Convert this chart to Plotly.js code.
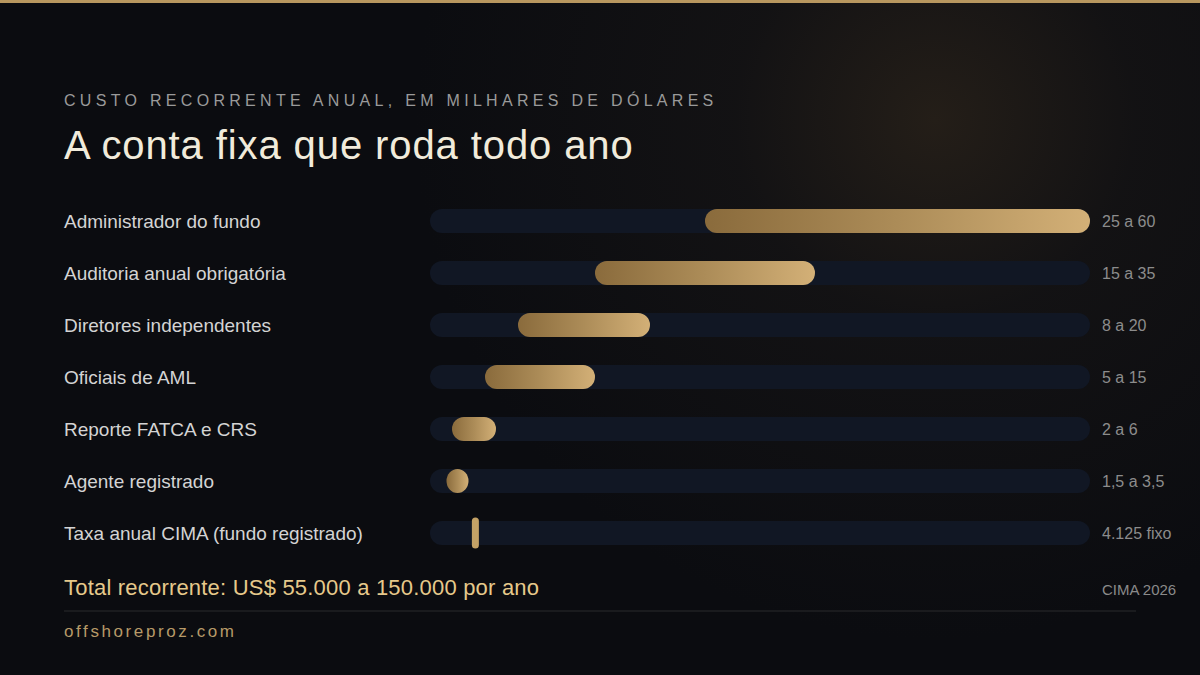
<!DOCTYPE html>
<html>
<head>
<meta charset="utf-8">
<script src="https://cdn.plot.ly/plotly-3.0.1.min.js"></script>
<style>
  html, body { margin:0; padding:0; width:1200px; height:675px; overflow:hidden;
    background: radial-gradient(circle at 935px 120px, rgba(36,30,24,1) 0px, rgba(24,22,22,0.6) 200px, rgba(11,12,16,0) 520px), #0b0c10; }
  #chart { width:1200px; height:675px; }
  .scatterlayer .points path { stroke-linecap: round; }
</style>
</head>
<body>
<div id="chart"></div>
<script>
const categories = [
  "Administrador do fundo",
  "Auditoria anual obrigatória",
  "Diretores independentes",
  "Oficiais de AML",
  "Reporte FATCA e CRS",
  "Agente registrado",
  "Taxa anual CIMA (fundo registrado)"
];
const lowValues  = [25, 15, 8, 5, 2, 1.5, 4.125];
const highValues = [60, 35, 20, 15, 6, 3.5, 4.125];
const valueLabels = ["25 a 60", "15 a 35", "8 a 20", "5 a 15", "2 a 6", "1,5 a 3,5", "4.125 fixo"];
const axisMax = 60;
const subtitleText = "CUSTO RECORRENTE ANUAL, EM MILHARES DE DÓLARES";
const titleText = "A conta fixa que roda todo ano";
const totalText = "Total recorrente: US$ 55.000 a 150.000 por ano";
const sourceText = "CIMA 2026";
const siteText = "offshoreproz.com";

const FONT = "Liberation Sans, Arial, Helvetica, sans-serif";
const W = 1200, H = 675, ML = 430, MR = 110, MT = 195, MB = 116;
const PW = W - ML - MR, PH = H - MT - MB;
const px = x => (x - ML) / PW;          // pixel -> paper x
const py = y => (H - MB - y) / PH;      // pixel -> paper y

const rangeIdx = categories.map((c, i) => lowValues[i] !== highValues[i]);
const fixedIdx = categories.map((c, i) => lowValues[i] === highValues[i]);
const rangeLows = lowValues.filter((v, i) => rangeIdx[i]);
const rangeHighs = highValues.filter((v, i) => rangeIdx[i]);

const track = {
  type: 'bar', orientation: 'h',
  y: categories, x: categories.map(() => axisMax), base: categories.map(() => 0),
  width: 0.46, marker: { color: '#111724', line: { width: 0 } },
  hoverinfo: 'skip', showlegend: false
};
const ranges = {
  type: 'bar', orientation: 'h',
  y: categories.filter((c, i) => rangeIdx[i]),
  x: rangeHighs.map((v, k) => v - rangeLows[k]),
  base: rangeLows,
  width: 0.46, marker: { color: '#b8955e', line: { width: 0 } },
  hoverinfo: 'skip', showlegend: false
};
const fixed = {
  type: 'scatter', mode: 'markers',
  y: categories.filter((c, i) => fixedIdx[i]),
  x: lowValues.filter((v, i) => fixedIdx[i]),
  marker: { symbol: 'line-ns', size: 17, color: '#c4a266', line: { width: 7, color: '#c4a266' } },
  hoverinfo: 'skip', showlegend: false
};

const spacing = {};
const annotations = [];
function addAnn(a, ls) { annotations.push(a); if (ls) spacing[a.text] = ls; }
addAnn({ xref:'paper', yref:'paper', x: px(62), y: py(100), xanchor:'left', yanchor:'middle',
  text: subtitleText, showarrow:false, font:{ family: FONT, size: 16, color:'#9a9a9a' } }, 4.3);
addAnn({ xref:'paper', yref:'paper', x: px(62), y: py(145), xanchor:'left', yanchor:'middle',
  text: titleText, showarrow:false, font:{ family: FONT, size: 40, color:'#f1ebdb' } }, 0.9);
categories.forEach((c, i) => {
  addAnn({ xref:'paper', yref:'y', x: px(62), y: c, xanchor:'left', yanchor:'middle',
    text: c, showarrow:false, font:{ family: FONT, size: 19, color:'#d4d4d4' } });
  addAnn({ xref:'paper', yref:'y', x: px(1100), y: c, xanchor:'left', yanchor:'middle',
    text: valueLabels[i], showarrow:false, font:{ family: FONT, size: 16, color:'#8c8c8c' } });
});
addAnn({ xref:'paper', yref:'paper', x: px(62), y: py(587), xanchor:'left', yanchor:'middle',
  text: totalText, showarrow:false, font:{ family: FONT, size: 22, color:'#e6c98b' } }, 0.2);
addAnn({ xref:'paper', yref:'paper', x: px(1100), y: py(589), xanchor:'left', yanchor:'middle',
  text: sourceText, showarrow:false, font:{ family: FONT, size: 15, color:'#8a8a8a' } });
addAnn({ xref:'paper', yref:'paper', x: px(62), y: py(631), xanchor:'left', yanchor:'middle',
  text: siteText, showarrow:false, font:{ family: FONT, size: 17, color:'#b79a68' } }, 2.6);

const shapes = [
  { type:'rect', xref:'paper', yref:'paper', x0: px(0), x1: px(1200), y0: py(3), y1: py(0),
    fillcolor:'#b8975f', line:{ width:0 }, layer:'above' },
  { type:'line', xref:'paper', yref:'paper', x0: px(64), x1: px(1136), y0: py(611), y1: py(611),
    line:{ color:'#2a2a2c', width:1 } }
];

const layout = {
  width: W, height: H,
  margin: { l: ML, r: MR, t: MT, b: MB, pad: 0 },
  paper_bgcolor: 'rgba(0,0,0,0)', plot_bgcolor: 'rgba(0,0,0,0)',
  barmode: 'overlay',
  xaxis: { range: [0, axisMax], visible: false, fixedrange: true },
  yaxis: { type: 'category', categoryarray: categories, range: [categories.length - 0.5, -0.5],
    visible: false, fixedrange: true },
  annotations, shapes, showlegend: false
};

const gd = document.getElementById('chart');
Plotly.newPlot(gd, [track, ranges, fixed], layout, { staticPlot: true, displayModeBar: false }).then(() => {
  const svg = gd.querySelector('svg.main-svg');
  const ns = 'http://www.w3.org/2000/svg';
  let defs = svg.querySelector('defs');
  if (!defs) { defs = document.createElementNS(ns, 'defs'); svg.insertBefore(defs, svg.firstChild); }
  const lg = document.createElementNS(ns, 'linearGradient');
  lg.setAttribute('id', 'goldGrad');
  lg.setAttribute('x1', '0'); lg.setAttribute('y1', '0'); lg.setAttribute('x2', '1'); lg.setAttribute('y2', '0');
  [['0', '#8a6b3c'], ['0.5', '#ac8c58'], ['1', '#d3b077']].forEach(([o, c]) => {
    const s = document.createElementNS(ns, 'stop');
    s.setAttribute('offset', o); s.setAttribute('stop-color', c); lg.appendChild(s);
  });
  defs.appendChild(lg);

  const traces = gd.querySelectorAll('.barlayer .trace');
  traces.forEach((tr, ti) => {
    tr.querySelectorAll('path').forEach(p => {
      const b = p.getBBox();
      if (!(b.width > 0 && b.height > 0)) return;
      const ry = b.height / 2, rx = Math.min(b.width / 2, ry);
      const x0 = b.x, x1 = b.x + b.width, y0 = b.y, y1 = b.y + b.height;
      const d = `M${x0 + rx},${y0} H${x1 - rx} A${rx},${ry} 0 0 1 ${x1 - rx},${y1} H${x0 + rx} A${rx},${ry} 0 0 1 ${x0 + rx},${y0} Z`;
      p.setAttribute('d', d);
      if (ti === 1) p.style.fill = 'url(#goldGrad)';
    });
  });

  gd.querySelectorAll('.annotation-text').forEach(t => {
    const ls = spacing[t.textContent];
    if (!ls) return;
    const b0 = t.getBBox();
    t.style.letterSpacing = ls + 'px';
    const b1 = t.getBBox();
    const dx = b0.x - b1.x;
    const prev = t.getAttribute('transform') || '';
    t.setAttribute('transform', prev + ` translate(${dx},0)`);
  });
});
</script>
</body>
</html>
